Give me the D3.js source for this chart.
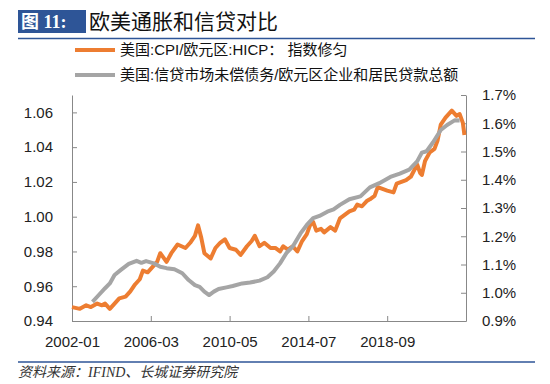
<!DOCTYPE html>
<html>
<head>
<meta charset="utf-8">
<script src="https://cdn.jsdelivr.net/npm/d3@7"></script>
<style>
  body { margin: 0; background: #fff; }
  text { font-family: "Liberation Sans", Arial, "Noto Sans CJK SC", sans-serif; }
</style>
</head>
<body>
<script>
var width = 550;
var height = 384;

// 美国:CPI/欧元区:HICP (left axis)
var cpiDates = ["2002-01","2002-06","2002-10","2003-01","2003-05","2003-08","2003-10","2004-01","2004-04","2004-07",
  "2004-11","2005-02","2005-05","2005-08","2005-10","2006-01","2006-04","2006-07","2006-09","2007-01",
  "2007-04","2007-08","2008-01","2008-04","2008-07","2008-09","2008-11","2009-01","2009-05","2009-08",
  "2009-11","2010-02","2010-05","2010-09","2010-12","2011-04","2011-07","2011-09","2011-12","2012-03",
  "2012-07","2012-10","2013-01","2013-03","2013-06","2013-09","2013-12","2014-03","2014-06","2014-08",
  "2014-10","2014-12","2015-03","2015-05","2015-09","2015-12","2016-03","2016-06","2016-09","2016-12",
  "2017-02","2017-05","2017-08","2017-10","2018-01","2018-03","2018-06","2018-09","2019-01","2019-03",
  "2019-06","2019-09","2019-12","2020-04","2020-06","2020-07","2020-09","2020-12","2021-03","2021-05",
  "2021-07","2021-10","2021-12","2022-02","2022-05","2022-07","2022-09","2022-10"];
var cpiValues = [0.948,0.947,0.949,0.948,0.950,0.949,0.950,0.947,0.950,0.953,
  0.954,0.957,0.961,0.964,0.969,0.968,0.971,0.974,0.979,0.974,
  0.979,0.984,0.982,0.985,0.989,0.995,0.988,0.979,0.976,0.982,
  0.985,0.987,0.982,0.981,0.978,0.983,0.986,0.989,0.983,0.985,
  0.982,0.982,0.980,0.983,0.981,0.983,0.980,0.986,0.990,0.995,
  0.997,0.992,0.993,0.991,0.994,0.992,0.999,1.001,1.003,1.004,
  1.007,1.006,1.009,1.010,1.012,1.017,1.016,1.015,1.014,1.019,
  1.020,1.021,1.023,1.030,1.025,1.024,1.032,1.037,1.039,1.044,
  1.053,1.057,1.059,1.061,1.058,1.059,1.054,1.047];

// 美国信贷市场未偿债务/欧元区企业和居民贷款总额, % (right axis)
var creditDates = ["2003-02","2003-06","2003-10","2004-01","2004-04","2004-08","2005-01","2005-06","2005-09","2005-12",
  "2006-05","2006-09","2007-01","2007-06","2007-11","2008-03","2008-07","2008-10","2009-01","2009-04",
  "2009-07","2009-10","2010-03","2010-07","2011-01","2011-06","2011-12","2012-05","2012-09","2013-01",
  "2013-05","2013-09","2014-02","2014-06","2014-10","2015-02","2015-07","2015-11","2016-03","2016-09",
  "2017-04","2017-10","2018-04","2018-11","2019-05","2019-11","2020-04","2020-07","2020-10","2021-02",
  "2021-07","2021-11","2022-04","2022-07"];
var creditValues = [0.968,0.992,1.016,1.033,1.063,1.081,1.102,1.113,1.106,1.112,
  1.104,1.092,1.087,1.083,1.069,1.045,1.027,1.021,1.004,0.992,
  1.004,1.013,1.019,1.024,1.033,1.036,1.043,1.055,1.075,1.104,
  1.140,1.163,1.210,1.240,1.264,1.272,1.287,1.295,1.311,1.331,
  1.341,1.373,1.388,1.410,1.422,1.436,1.465,1.496,1.501,1.532,
  1.576,1.594,1.611,1.610];

var seriesNames = ["美国:CPI/欧元区:HICP： 指数修匀", "美国:信贷市场未偿债务/欧元区企业和居民贷款总额"];
var seriesColors = ["#ED7D31", "#A5A5A5"];
var xTickLabels = ["2002-01", "2006-03", "2010-05", "2014-07", "2018-09"];
var leftTicks = [0.94, 0.96, 0.98, 1.00, 1.02, 1.04, 1.06];
var rightTicks = [0.9, 1.0, 1.1, 1.2, 1.3, 1.4, 1.5, 1.6, 1.7];

// month number counted from 2002-01
var monthIndex = function(s) {
  var p = s.split("-");
  return (+p[0] - 2002) * 12 + (+p[1] - 1);
};

var svg = d3.select("body").append("svg").attr("width", width).attr("height", height);
var blue = "#2E5597";

// title
svg.append("rect").attr("x", 18).attr("y", 10).attr("width", 68).attr("height", 23).attr("fill", blue);
svg.append("text").attr("x", 21).attr("y", 28).attr("fill", "#fff")
  .style("font-family", '"Liberation Serif", "Noto Sans CJK SC", serif')
  .style("font-size", "18px").style("font-weight", "bold").text("图 11:");
svg.append("text").attr("x", 89).attr("y", 28.5).attr("fill", "#111")
  .style("font-family", '"Noto Sans CJK SC", sans-serif').style("font-size", "21px")
  .text("欧美通胀和信贷对比");
svg.append("line").attr("x1", 18).attr("x2", 535).attr("y1", 38.5).attr("y2", 38.5)
  .attr("stroke", blue).attr("stroke-width", 1.5);

// scales
var x = d3.scaleLinear().domain([0, 250]).range([72, 466]);
var yLeft = d3.scaleLinear().domain([0.94, 1.07]).range([321, 95]);
var yRight = d3.scaleLinear().domain([0.9, 1.7]).range([321, 95]);

var styleAxis = function(g) {
  g.select(".domain").attr("stroke", "#888");
  g.selectAll(".tick line").attr("stroke", "#888");
  g.selectAll(".tick text").attr("fill", "#222").style("font-size", "15px");
};

svg.append("g").attr("transform", "translate(72,0)")
  .call(d3.axisLeft(yLeft).tickValues(leftTicks).tickFormat(d3.format(".2f"))
    .tickSizeInner(-5).tickSizeOuter(0).tickPadding(19))
  .call(styleAxis);

svg.append("g").attr("transform", "translate(466,0)")
  .call(d3.axisRight(yRight).tickValues(rightTicks).tickFormat(function(d) { return d.toFixed(1) + "%"; })
    .tickSizeInner(-5).tickSizeOuter(0).tickPadding(16))
  .call(styleAxis);

svg.append("g").attr("transform", "translate(0,321)")
  .call(d3.axisBottom(x).tickValues(xTickLabels.map(monthIndex))
    .tickFormat(function(d, i) { return xTickLabels[i]; })
    .tickSizeInner(-5).tickSizeOuter(0).tickPadding(15))
  .call(styleAxis);

// lines
var cpiData = cpiDates.map(function(d, i) { return {m: monthIndex(d), v: cpiValues[i]}; });
var creditData = creditDates.map(function(d, i) { return {m: monthIndex(d), v: creditValues[i]}; });

var cpiLine = d3.line().x(function(d) { return x(d.m); }).y(function(d) { return yLeft(d.v); });
var creditLine = d3.line().x(function(d) { return x(d.m); }).y(function(d) { return yRight(d.v); });

svg.append("path").datum(cpiData).attr("d", cpiLine).attr("fill", "none")
  .attr("stroke", seriesColors[0]).attr("stroke-width", 4).attr("stroke-linejoin", "round");
svg.append("path").datum(creditData).attr("d", creditLine).attr("fill", "none")
  .attr("stroke", seriesColors[1]).attr("stroke-width", 4).attr("stroke-linejoin", "round");

// legend
var legend = svg.selectAll(".legend").data(seriesNames).enter().append("g")
  .attr("transform", function(d, i) { return "translate(75," + (50 + i * 25) + ")"; });
legend.append("line").attr("x1", 0).attr("x2", 40).attr("y1", 0).attr("y2", 0)
  .attr("stroke", function(d, i) { return seriesColors[i]; }).attr("stroke-width", 4);
legend.append("text").attr("x", 45).attr("y", 0).attr("dy", "0.36em")
  .style("font-size", "15px").attr("fill", "#111").text(function(d) { return d; });

// source
svg.append("line").attr("x1", 18).attr("x2", 535).attr("y1", 362).attr("y2", 362)
  .attr("stroke", blue).attr("stroke-width", 1.5);
svg.append("text").attr("x", 18).attr("y", 377).attr("fill", "#333")
  .style("font-family", '"Liberation Serif", "Noto Sans CJK SC", serif')
  .style("font-style", "italic").style("font-size", "14px")
  .text("资料来源：IFIND、长城证券研究院");
</script>
</body>
</html>
